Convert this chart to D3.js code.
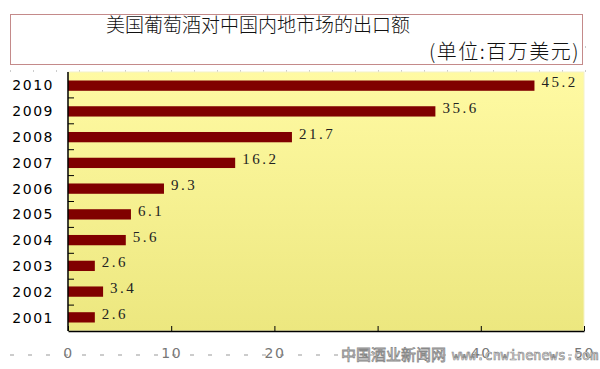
<!DOCTYPE html>
<html>
<head>
<meta charset="utf-8">
<script src="https://cdn.jsdelivr.net/npm/d3@7"></script>
<style>
  body { margin: 0; background: #fff; }
  svg { display: block; }
</style>
</head>
<body>
<svg id="chart"></svg>
<script>
// data
var years = ["2010", "2009", "2008", "2007", "2006", "2005", "2004", "2003", "2002", "2001"];
var values = [45.2, 35.6, 21.7, 16.2, 9.3, 6.1, 5.6, 2.6, 3.4, 2.6];
var xTicks = [0, 10, 20, 30, 40, 50];
var xTickLabels = ["0", "10", "20", "", "40", "50"];

var config = {
    width: 600,
    height: 369,
    margin: { top: 72, right: 16, bottom: 38, left: 68 }
};

var svg = d3.select('#chart')
    .attr('width', config.width)
    .attr('height', config.height);

var inner_width = config.width - config.margin.left - config.margin.right;
var inner_height = config.height - config.margin.top - config.margin.bottom;

// gradient for the plot background
var defs = svg.append('defs');
var grad = defs.append('linearGradient')
    .attr('id', 'bg')
    .attr('x1', 0).attr('y1', 0).attr('x2', 0).attr('y2', 1);
grad.append('stop').attr('offset', '0%').attr('stop-color', '#fffaa3');
grad.append('stop').attr('offset', '100%').attr('stop-color', '#ece77f');

// faint dotted background rows
[47, 71, 355].forEach(function(y) {
    svg.append('line')
        .attr('x1', 10).attr('x2', 590)
        .attr('y1', y).attr('y2', y)
        .attr('stroke', '#999')
        .attr('stroke-width', 1)
        .attr('stroke-dasharray', y == 355 ? '4,14' : '1,22');
});

// title box
svg.append('rect')
    .attr('x', 10.5).attr('y', 14.5)
    .attr('width', 572).attr('height', 50)
    .attr('fill', '#fff')
    .attr('stroke', '#c48a8a')
    .attr('stroke-width', 1);

svg.append('text')
    .attr('x', 258).attr('y', 32)
    .attr('text-anchor', 'middle')
    .attr('font-family', '"Noto Sans CJK SC", sans-serif')
    .attr('font-size', '19px')
    .attr('font-weight', 300)
    .attr('fill', '#111')
    .text('美国葡萄酒对中国内地市场的出口额');

svg.append('text')
    .attr('x', 580).attr('y', 59)
    .attr('text-anchor', 'end')
    .attr('font-family', '"Noto Sans CJK SC", sans-serif')
    .attr('font-size', '20px')
    .attr('font-weight', 300)
    .attr('letter-spacing', '1.5px')
    .attr('fill', '#111')
    .text('(单位:百万美元)');

var chart = svg.append('g')
    .attr('transform', `translate(${config.margin.left}, ${config.margin.top})`);

chart.append('rect')
    .attr('width', inner_width)
    .attr('height', inner_height)
    .attr('fill', 'url(#bg)')
    .attr('stroke', '#f4f2c8');

var xscale = d3.scaleLinear()
    .domain([0, 50])
    .range([0, inner_width]);

var yscale = d3.scaleBand()
    .domain(years)
    .range([0, inner_height])
    .paddingInner(0.6)
    .paddingOuter(0.33);

var band = d3.scaleBand()
    .domain(years)
    .range([0, inner_height]);

// bars
chart.selectAll('rect.bar')
    .data(values)
    .enter()
    .append('rect')
    .attr('class', 'bar')
    .attr('x', 0)
    .attr('y', (d, i) => yscale(years[i]))
    .attr('width', d => xscale(d))
    .attr('height', yscale.bandwidth())
    .attr('fill', '#800000');

// value labels
chart.selectAll('text.val')
    .data(values)
    .enter()
    .append('text')
    .attr('class', 'val')
    .attr('x', d => xscale(d) + 7)
    .attr('y', (d, i) => yscale(years[i]) + yscale.bandwidth() / 2)
    .attr('dy', '0.1em')
    .attr('font-family', '"Liberation Serif", serif')
    .attr('font-size', '15px')
    .attr('letter-spacing', '2.5px')
    .attr('fill', '#222')
    .text(d => d.toFixed(1));

// y axis: ticks between bands, pointing inward
var yTickPos = years.slice(1).map(y => band(y));
chart.selectAll('line.ytick')
    .data(yTickPos)
    .enter()
    .append('line')
    .attr('x1', 0).attr('x2', 6)
    .attr('y1', d => d).attr('y2', d => d)
    .attr('stroke', '#000');

chart.selectAll('text.year')
    .data(years)
    .enter()
    .append('text')
    .attr('x', -14)
    .attr('y', d => band(d) + band.bandwidth() / 2)
    .attr('dy', '0.36em')
    .attr('text-anchor', 'end')
    .attr('font-family', '"DejaVu Sans", sans-serif')
    .attr('font-size', '14px')
    .attr('letter-spacing', '1.5px')
    .attr('fill', '#000')
    .text(d => d);

// x axis: ticks pointing up, labels well below
var xaxis = d3.axisBottom(xscale)
    .tickValues(xTicks)
    .tickSize(-5)
    .tickSizeOuter(0)
    .tickFormat((d, i) => xTickLabels[i]);

var xaxis_group = chart.append('g')
    .attr('transform', `translate(0, ${inner_height})`)
    .call(xaxis);
xaxis_group.select('.domain').attr('stroke', '#000').attr('stroke-width', 1.5);
xaxis_group.selectAll('.tick line').attr('stroke', '#000');
xaxis_group.selectAll('.tick text')
    .attr('y', 17)
    .attr('font-family', '"DejaVu Sans", sans-serif')
    .attr('font-size', '14px')
    .attr('letter-spacing', '1.5px')
    .attr('fill', '#777');

chart.append('line')
    .attr('x1', 0).attr('x2', 0)
    .attr('y1', 0).attr('y2', inner_height)
    .attr('stroke', '#000')
    .attr('stroke-width', 1.5);

// watermark
svg.append('text')
    .attr('x', 341).attr('y', 360)
    .attr('font-family', '"Noto Sans CJK SC", sans-serif')
    .attr('font-size', '15px')
    .attr('fill', '#fff')
    .attr('stroke', '#888')
    .attr('stroke-width', 0.8)
    .text('中国酒业新闻网');
svg.append('text')
    .attr('x', 452).attr('y', 360)
    .attr('font-family', '"DejaVu Sans Mono", monospace')
    .attr('font-size', '13.5px')
    .attr('fill', '#fff')
    .attr('stroke', '#888')
    .attr('stroke-width', 0.7)
    .text('www.cnwinenews.com');
</script>
</body>
</html>
